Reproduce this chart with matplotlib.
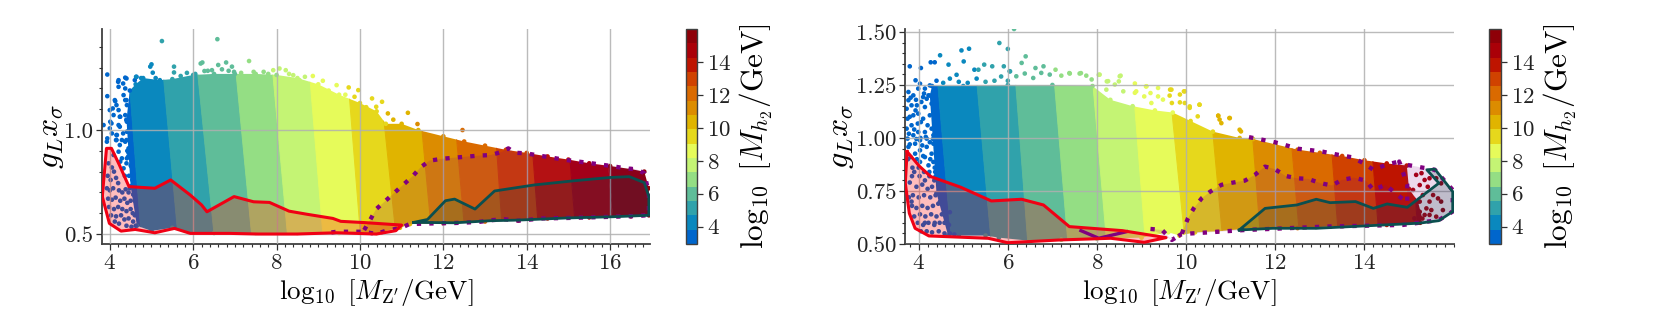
import numpy as np
import matplotlib
matplotlib.use("Agg")
import matplotlib.pyplot as plt
from matplotlib.colors import ListedColormap, BoundaryNorm
from matplotlib.cm import ScalarMappable
from matplotlib.patches import Polygon
from matplotlib.ticker import MultipleLocator, FormatStrFormatter

plt.rcParams['font.family'] = ['cmr10', 'DejaVu Serif']
plt.rcParams['mathtext.fontset'] = 'cm'
plt.rcParams['axes.formatter.use_mathtext'] = True
plt.rcParams['axes.unicode_minus'] = False

W, H = 1661, 332

band_colors = ['#0066CC', '#0A88BE', '#30A2AB', '#5FBD99', '#94DE84', '#C4F474', '#E6FB5A', '#E6D81C',
               '#E0B400', '#DC8C00', '#DA6A00', '#D04200', '#BE1400', '#AA0008', '#8E0008']
mass_levels = [2.94, 3.81, 4.68, 5.56, 6.43, 7.30, 8.18, 9.05, 9.92, 10.80, 11.67, 12.54, 13.41, 14.29, 15.16, 16.03]
band_mass = [3.4, 4.2, 5.1, 6.0, 6.9, 7.7, 8.6, 9.5, 10.4, 11.2, 12.1, 13.0, 13.9, 14.7, 15.6]
cbar_ticks = [4, 6, 8, 10, 12, 14]

# ---------- left panel ----------
L_boundary_top = [4.46, 5.29, 6.12, 7.04, 7.92, 8.80, 9.71, 10.47, 11.37, 12.19, 13.16, 14.01, 14.88, 15.82]
L_boundary_bot = [4.75, 5.63, 6.50, 7.40, 8.26, 9.11, 10.01, 10.86, 11.72, 12.52, 13.42, 14.29, 15.18, 16.07]
L_env_x = [4.48, 4.62, 4.80, 5.20, 5.50, 6.00, 6.50, 7.00, 7.50, 8.00, 8.50, 9.00, 9.50, 10.00, 10.40, 10.62, 11.00, 11.40,
           12.00, 12.50, 13.00, 13.50, 14.00, 14.50, 15.00, 15.50, 16.00, 16.50, 16.82, 16.93, 16.93, 16.50, 15.50, 14.50,
           13.80, 13.00, 12.00, 11.20, 10.96, 10.40, 9.50, 8.50, 7.50, 6.50, 5.90, 5.50, 5.00, 4.65, 4.50, 4.45, 4.40]
L_env_y = [1.19, 1.22, 1.25, 1.24, 1.245, 1.265, 1.27, 1.27, 1.27, 1.265, 1.25, 1.22, 1.17, 1.13, 1.09, 1.03, 1.03, 1.00,
           .97, .945, .925, .905, .89, .873, .858, .84, .827, .812, .80, .72, .59, .585, .58, .575,
           .565, .56, .552, .548, .53, .505, .505, .505, .505, .505, .51, .53, .515, .54, .73, .89, 1.05]
L_dot_x = [3.94, 3.94, 3.85, 4.37, 4.21, 4.21, 4.37, 4.33, 4.13, 4.37, 4.07, 4.21, 4.41, 4.09, 4.25, 4.01, 4.37, 4.21, 4.41,
           4.05, 4.17, 4.41, 3.93, 4.15, 4.29, 4.21, 4.37, 4.45, 4.29, 4.41, 4.09, 4.25, 4.33,
           3.97, 4.05, 4.10, 3.95, 4.02, 4.15, 4.20, 3.93, 4.00, 4.08, 4.22, 4.30, 4.38, 4.45, 3.96, 4.05, 4.14, 4.25, 4.35,
           4.42, 4.50, 3.98, 4.10, 4.20, 4.30, 4.40, 4.50, 4.55, 4.03, 4.15, 4.27, 4.35, 4.45, 4.56, 4.22, 4.40, 4.52, 4.62, 4.60, 4.12,
           4.20, 4.40, 4.32, 4.64, 4.60, 4.12, 4.16, 4.24, 4.04, 4.24, 4.00, 4.40, 4.40, 4.16, 4.40, 4.44, 4.52, 4.40, 4.16, 4.32, 4.24, 3.94, 4.00,
           4.46, 4.50, 4.36, 4.48, 4.54, 4.42, 4.56, 4.46, 4.60]
L_dot_y = [1.267, 1.163, 1.024, 1.252, 1.24, 1.208, 1.20, 1.168, 1.139, 1.144, 1.104, 1.096, 1.12, 1.072, 1.064, 1.04, 1.072, 1.024, 1.04,
           .984, .976, .992, .944, .952, .952, .896, .944, .912, .864, .864, .88, .848, .816,
           .84, .82, .80, .78, .76, .77, .745, .72, .71, .72, .71, .70, .715, .70, .67, .665, .675, .66, .67,
           .65, .66, .63, .62, .63, .62, .61, .62, .60, .59, .585, .59, .57, .575, .56, .55, .54, .535, .54, .59, .56,
           1.232, 1.248, 1.224, 1.256, 1.24, 1.144, 1.12, 1.064, 1.032, 1.016, 1.096, 1.144, 1.048, .976, .952, .872, .824, .84, .952, .984, .928, .96, 1.008,
           .78, .83, .78, .72, .76, .90, .69, 1.00, .66]
L_dot_m = [3.4] * len(L_dot_x)
L_top_x = [5.25, 6.58, 5.00, 4.97, 5.54, 5.03, 5.54, 6.22, 6.18, 6.27, 6.45, 6.60, 6.79, 6.69, 6.93, 7.34, 6.98, 7.69, 7.92, 8.07,
           8.22, 8.40, 8.68, 8.87, 9.11, 9.73, 9.96, 9.44, 9.87, 10.29, 10.53, 10.39, 11.15, 10.67, 11.38, 12.46, 4.63, 4.75,
           5.10, 5.70, 5.85, 6.05, 6.35, 6.85, 7.15, 7.45, 7.80, 8.30, 8.55, 9.25, 9.65, 10.15, 10.80]
L_top_y = [1.428, 1.437, 1.316, 1.305, 1.305, 1.276, 1.277, 1.325, 1.32, 1.284, 1.288, 1.313, 1.325, 1.292, 1.305, 1.332, 1.28, 1.28, 1.288, 1.296,
           1.288, 1.264, 1.256, 1.26, 1.237, 1.205, 1.192, 1.216, 1.16, 1.152, 1.136, 1.112, 1.083, 1.08, 1.029, 1.00, 1.256, 1.25,
           1.25, 1.26, 1.275, 1.27, 1.285, 1.285, 1.275, 1.28, 1.27, 1.27, 1.24, 1.19, 1.17, 1.11, 1.05]
L_top_m = [5.1, 6.0, 4.2, 4.2, 5.1, 4.2, 5.1, 6.0, 6.0, 6.0, 6.0, 6.0, 6.0, 6.0, 6.0, 6.9, 6.0, 6.9, 7.7, 7.7,
           7.7, 7.7, 7.7, 8.6, 8.6, 9.5, 9.5, 8.6, 9.5, 9.5, 9.5, 9.5, 10.4, 10.4, 11.2, 12.1, 4.2, 4.2,
           4.2, 5.1, 5.1, 5.1, 6.0, 6.0, 6.9, 6.9, 6.9, 7.7, 7.7, 8.6, 8.6, 9.5, 10.4]
L_red_x = [3.82, 3.92, 4.04, 4.23, 4.46, 5.08, 5.46, 5.93, 6.20, 6.33, 6.98, 7.45, 7.83, 8.30, 8.73, 9.35, 9.54, 10.10, 11.00,
           10.86, 10.39, 9.44, 8.49, 7.55, 6.88, 5.93, 5.55, 5.08, 4.61, 4.27, 3.99, 3.82]
L_red_y = [.68, .912, .912, .832, .728, .72, .76, .6875, .64, .607, .68, .655, .652, .61, .595, .575, .561, .555, .543,
           .516, .50, .506, .50, .50, .503, .503, .527, .506, .522, .514, .551, .68]
L_teal_x = [11.29, 11.62, 12.05, 12.27, 12.76, 13.23, 14.18, 15.13, 16.00, 16.46, 16.82, 16.93, 16.93, 16.07, 14.94, 13.80, 13.14, 12.28, 11.29]
L_teal_y = [.556, .57, .66, .668, .62, .707, .736, .756, .772, .776, .747, .68, .59, .583, .577, .567, .564, .554, .556]
L_purple_x = [10.10, 10.25, 10.39, 10.61, 10.83, 11.05, 11.27, 11.45, 11.67, 11.98, 12.26, 12.55, 12.85, 13.14, 13.42, 13.56, 13.71, 13.99,
              14.27, 14.56, 14.84, 15.13, 15.46, 15.74, 16.03, 16.36, 16.64, 16.82, 16.93, 16.93, 16.69, 16.08, 15.51, 14.94, 14.37, 13.80,
              13.47, 13.18, 12.85, 12.28, 11.76, 11.19, 10.96, 10.67, 10.39, 10.10, 9.44, 9.16]
L_purple_y = [.519, .57, .62, .659, .699, .739, .779, .82, .853, .862, .867, .872, .877, .88, .896, .912, .891, .888,
              .878, .869, .859, .851, .843, .835, .827, .816, .811, .792, .696, .591, .587, .583, .58, .577, .575, .564,
              .571, .567, .558, .553, .551, .548, .527, .519, .50, .511, .511, .503]

# ---------- right panel ----------
R_boundary_top = [4.43, 5.31, 6.18, 7.05, 7.91, 8.81, 9.62, 10.50, 11.40, 12.25, 13.15, 14.05, 14.95, 15.70]
R_boundary_bot = [4.74, 5.63, 6.45, 7.35, 8.22, 9.09, 9.98, 10.83, 11.68, 12.56, 13.43, 14.34, 15.22, 15.95]
R_env_x = [4.25, 4.30, 5.00, 6.00, 7.00, 7.90, 8.30, 8.80, 9.30, 9.70, 10.10, 10.60, 11.20, 11.50, 12.00, 12.50, 13.00, 13.50, 14.00,
           14.50, 14.95, 15.00, 15.20, 15.30, 15.25, 14.50, 13.50, 12.50, 11.50, 10.70, 10.20, 9.85, 9.60, 9.00, 8.00, 7.20, 6.50, 5.80,
           5.50, 4.90, 4.66, 4.40]
R_env_y = [1.20, 1.245, 1.245, 1.25, 1.25, 1.245, 1.18, 1.15, 1.13, 1.12, 1.08, 1.03, 1.00, .995, .97, .945, .93, .915, .895,
           .88, .87, .76, .70, .62, .60, .59, .585, .575, .575, .56, .555, .54, .555, .53, .525, .52, .515, .53,
           .54, .54, .54, .74]
R_dot_x = [3.77, 3.93, 4.03, 3.77, 3.88, 3.99, 4.14, 4.25, 3.73, 3.84, 3.96, 4.10, 4.22, 4.37, 3.75, 3.88, 3.99, 4.14, 4.29, 3.73,
           3.84, 3.98, 4.10, 4.25, 3.75, 3.88, 3.99, 4.14, 4.29, 3.77, 3.92, 4.03, 4.18, 4.33, 3.92, 4.03, 4.18, 4.33, 4.03, 4.14,
           4.29, 4.40, 4.22, 4.33, 4.44, 4.37, 4.48,
           3.90, 4.02, 3.80, 3.95, 4.08, 4.20, 4.30, 3.78, 3.87, 4.00, 4.12, 4.26, 4.38, 4.50, 3.85, 3.95, 4.08, 4.20, 4.32, 4.44,
           4.55, 3.90, 4.03, 4.15, 4.28, 4.40, 4.52, 4.62, 3.98, 4.10, 4.22, 4.35, 4.47, 4.58, 4.68, 4.05, 4.18, 4.30, 4.45, 4.58, 4.70, 4.80,
           3.82, 3.94, 4.06, 4.18, 4.30, 4.12, 3.80, 3.93, 4.05, 4.20, 4.35, 3.78, 3.90, 4.04, 4.16, 4.32, 3.80, 3.95, 4.08, 4.25, 4.40, 3.82, 3.96, 4.10, 4.26,
           4.42, 3.76, 3.86, 4.00, 4.12, 4.24, 4.36, 4.24, 4.38, 4.46, 3.85, 4.14, 4.35, 4.52, 4.54, 4.48, 4.58, 4.62, 3.84, 4.14, 4.36, 4.64, 4.70]
R_dot_y = [1.217, 1.272, 1.256, 1.178, 1.201, 1.233, 1.233, 1.248, 1.138, 1.154, 1.154, 1.193, 1.201, 1.225, 1.091, 1.107, 1.115, 1.146, 1.162, 1.044,
           1.06, 1.068, 1.091, 1.107, .997, 1.013, 1.028, 1.028, 1.044, .958, .973, .989, .997, 1.013, .926, .942, .958, .973, .887, .91,
           .926, .942, .871, .887, .903, .84, .855,
           .84, .82, .79, .77, .78, .76, .77, .72, .73, .72, .73, .72, .73, .74, .68, .67, .68, .67, .68, .69,
           .69, .63, .64, .63, .64, .63, .64, .65, .60, .59, .60, .59, .60, .60, .59, .56, .56, .555, .56, .55, .55, .545,
           1.19, 1.18, 1.17, 1.185, 1.20, 1.21, 1.10, 1.13, 1.075, 1.06, 1.08, 1.02, 1.04, 1.00, 1.005, .995, .97, .995, .965, .98, .965, .91, .90, .915, .90,
           .91, .90, .86, .86, .84, .84, .86, .82, .82, .80, .82, .80, .80, .76, .72, .70, .66, .60, .70, .60, .60, .60, .65]
R_dot_m = [3.4] * len(R_dot_x)
R_top_x = [3.80, 4.05, 4.27, 4.48, 4.36, 4.67, 4.96, 5.13, 5.01, 5.25, 5.34, 5.47, 4.85, 5.65, 5.81, 6.00, 6.14, 5.91, 6.05, 6.40,
           6.31, 6.62, 6.80, 7.07, 7.38, 7.64, 8.04, 8.53, 8.22, 8.49, 9.10, 9.64, 9.95, 10.08, 10.30, 10.26, 10.72, 10.97, 10.79, 11.23,
           9.06, 9.37, 9.68, 9.20, 8.88,
           6.04, 6.19, 6.38, 6.57, 6.75, 6.94, 7.20, 7.39, 7.61, 7.76, 8.06, 7.88, 8.25, 8.51, 8.40, 8.21, 8.59, 8.85, 8.85, 9.11, 9.37, 9.67, 9.86, 9.97,
           9.63, 10.30, 9.97, 9.48, 9.22, 9.86, 10.08, 10.72, 10.98, 10.75, 11.20,
           4.40, 4.55, 4.70, 4.90, 5.10, 5.30, 5.50, 5.70, 5.85, 6.00,
           15.16, 15.28, 15.35, 15.46, 15.24, 15.42, 15.61, 15.72, 15.09, 15.31, 15.54, 15.65, 15.24, 15.46, 15.72, 15.39, 15.50, 15.35,
           15.46, 15.61, 15.24, 15.76, 15.12]
R_top_y = [1.338, 1.33, 1.357, 1.39, 1.357, 1.346, 1.413, 1.421, 1.361, 1.322, 1.322, 1.346, 1.298, 1.338, 1.448, 1.42, 1.514, 1.338, 1.314, 1.385,
           1.354, 1.33, 1.338, 1.322, 1.306, 1.306, 1.298, 1.294, 1.267, 1.267, 1.243, 1.228, 1.22, 1.149, 1.157, 1.102, 1.105, 1.094, 1.07, 1.031,
           1.196, 1.196, 1.165, 1.212, 1.22,
           1.315, 1.291, 1.304, 1.283, 1.307, 1.299, 1.294, 1.304, 1.304, 1.294, 1.299, 1.276, 1.268, 1.291, 1.252, 1.228, 1.22, 1.257, 1.213, 1.244, 1.236, 1.228, 1.205, 1.22,
           1.20, 1.157, 1.165, 1.181, 1.165, 1.168, 1.142, 1.105, 1.094, 1.087, 1.039,
           1.27, 1.26, 1.28, 1.265, 1.26, 1.28, 1.265, 1.27, 1.29, 1.27,
           .826, .834, .802, .81, .778, .77, .81, .786, .755, .731, .731, .715, .70, .70, .70, .668, .66, .637,
           .637, .629, .652, .66, .621]
R_top_m = [3.4, 3.4, 3.4, 4.2, 3.4, 4.2, 4.2, 4.2, 4.2, 4.2, 5.1, 5.1, 4.2, 5.1, 5.1, 5.1, 6.0, 5.1, 5.1, 6.0,
           6.0, 6.0, 6.0, 6.9, 6.9, 6.9, 7.7, 7.7, 7.7, 7.7, 8.6, 9.5, 9.5, 9.5, 9.5, 9.5, 10.4, 10.4, 10.4, 10.4,
           8.6, 8.6, 9.5, 8.6, 8.6,
           5.1, 6.0, 6.0, 6.0, 6.0, 6.0, 6.9, 6.9, 6.9, 6.9, 7.7, 6.9, 7.7, 7.7, 7.7, 7.7, 7.7, 8.6, 8.6, 8.6, 8.6, 9.5, 9.5, 9.5,
           9.5, 9.5, 9.5, 8.6, 8.6, 9.5, 9.5, 10.4, 10.4, 10.4, 10.4,
           3.4, 4.2, 4.2, 4.2, 4.2, 4.2, 5.1, 5.1, 5.1, 5.1,
           14.7, 14.7, 14.7, 14.7, 14.7, 14.7, 15.6, 15.6, 14.7, 14.7, 14.7, 14.7, 14.7, 14.7, 15.6, 14.7, 14.7, 14.7,
           14.7, 14.7, 14.7, 15.6, 14.7]
R_red_x = [3.74, 4.01, 4.27, 4.94, 5.63, 6.31, 6.80, 7.38, 8.57, 9.55, 9.06, 8.31, 7.16, 6.00, 5.56, 4.23, 3.92, 3.79, 3.70, 3.74]
R_red_y = [.936, .868, .818, .768, .703, .711, .684, .582, .563, .53, .508, .527, .519, .506, .527, .538, .574, .645, .787, .936]
R_teal_x = [11.19, 11.77, 12.48, 12.92, 13.23, 13.80, 14.20, 14.51, 14.96, 15.67, 15.40, 15.58, 15.98, 15.98, 15.67, 15.22, 13.98, 12.92, 11.94, 11.19]
R_teal_y = [.566, .668, .684, .711, .695, .70, .668, .689, .673, .787, .85, .853, .747, .653, .61, .598, .585, .574, .574, .566]
R_purple_x = [9.20, 9.46, 9.68, 9.90, 10.04, 10.17, 10.35, 10.54, 10.79, 11.06, 11.32, 11.54, 11.77, 11.99, 12.23, 12.48, 12.74, 13.01, 13.27,
              13.49, 13.76, 14.03, 14.20, 14.47, 14.70, 14.96, 14.96, 14.78, 14.96, 15.58, 15.98, 15.98, 15.67, 14.87, 13.10, 11.32, 10.44, 9.90, 9.68]
R_purple_y = [.571, .566, .519, .547, .621, .668, .716, .747, .779, .79, .799, .826, .865, .853, .821, .81, .807, .787, .776,
              .802, .813, .799, .755, .779, .739, .695, .78, .889, .873, .85, .755, .653, .613, .59, .582, .566, .554, .547, .519]
R_outer_x = [11.41, 11.70, 11.99, 12.25, 12.52, 12.78, 13.05, 13.38, 13.72, 13.98, 14.20, 14.50, 14.78]
R_outer_y = [1.004, .992, .98, .965, .949, .943, .936, .922, .909, .881, .85, .875, .889]
R_extra_x = [7.64, 8.04, 8.66]
R_extra_y = [.563, .527, .558]

cmap = ListedColormap(band_colors)
norm = BoundaryNorm(mass_levels, cmap.N)
DOTTED = (0, (1, 1.9))


def ax_px(x0, x1, y0, y1):
    return [x0 / W, 1 - y1 / H, (x1 - x0) / W, (y1 - y0) / H]


def draw_panel(ax, xlim, ylim, btop, bbot, envx, envy, dots, red, teal, purple, yminor, yfmt, yticks, xticks, xminor, ylab_x):
    ax.set_xlim(*xlim)
    ax.set_ylim(*ylim)
    env = Polygon(np.column_stack([envx, envy]), closed=True, transform=ax.transData, fc='none', ec='none')
    ax.add_patch(env)
    yhi, ylo = 1.25, 0.5
    ya, yb = 1.45, 0.45
    t = np.array(btop)
    b = np.array(bbot)
    xa = t + (t - b) * (ya - yhi) / (yhi - ylo)
    xb = b + (b - t) * (ylo - yb) / (yhi - ylo)
    xa = np.concatenate([[xlim[0] - 1], xa, [xlim[1] + 1]])
    xb = np.concatenate([[xlim[0] - 1], xb, [xlim[1] + 1]])
    for i in range(len(xa) - 1):
        c = cmap(norm(band_mass[i]))
        p = ax.fill([xa[i], xa[i + 1], xb[i + 1], xb[i]], [ya, ya, yb, yb], fc=c, ec=c, lw=0.7, zorder=1)[0]
        p.set_clip_path(env)
    env_m = np.array(band_mass)[np.clip(np.searchsorted(0.5 * (t + b), envx), 0, 14)]
    ax.scatter(envx, envy, c=env_m, cmap=cmap, norm=norm, s=11, lw=0, zorder=1.2)
    for dx, dy, dm in dots:
        ax.scatter(dx, dy, c=dm, cmap=cmap, norm=norm, s=11, lw=0, zorder=1.3)

    ax.set_axisbelow(False)
    ax.grid(True, which='major', color='#b0b0b0', lw=1.0, alpha=0.85)
    ax.fill(purple[0], purple[1], color='#800080', alpha=0.15, lw=0, zorder=2.6)
    ax.plot(purple[0], purple[1], color='#800080', lw=3.1, ls=DOTTED, zorder=3)
    ax.fill(teal[0], teal[1], color='#0B4A4A', alpha=0.20, lw=0, zorder=2.7)
    ax.plot(teal[0], teal[1], color='#0B4F4F', lw=2.0, zorder=3.2)
    ax.fill(red[0], red[1], color='#FF0000', alpha=0.26, lw=0, zorder=2.8)
    ax.plot(red[0], red[1], color='#F00014', lw=2.2, zorder=3.3)

    ax.set_xticks(xticks)
    ax.set_yticks(yticks)
    ax.xaxis.set_minor_locator(MultipleLocator(xminor))
    ax.yaxis.set_minor_locator(MultipleLocator(yminor))
    ax.yaxis.set_major_formatter(FormatStrFormatter(yfmt))
    ax.tick_params(which='major', labelsize=16.5, length=4, width=0.9, color='#303030', labelcolor='#222222', pad=2.5)
    ax.tick_params(which='minor', length=2.5, width=0.8, color='#303030')
    for s in ('top', 'right'):
        ax.spines[s].set_visible(False)
    for s in ('left', 'bottom'):
        ax.spines[s].set_color('#404040')
        ax.spines[s].set_linewidth(1.3)
    ax.set_xlabel(r'$\log_{10}\ [M_{\mathrm{Z}^\prime}/\mathrm{GeV}]$', fontsize=19.5, labelpad=3.5)
    ax.set_ylabel(r'$g_L x_\sigma$', fontsize=23)
    ax.yaxis.set_label_coords(ylab_x, 0.5)


def draw_cbar(fig, rect):
    cax = fig.add_axes(rect)
    sm = ScalarMappable(norm=norm, cmap=cmap)
    cb = fig.colorbar(sm, cax=cax, ticks=cbar_ticks, spacing='proportional')
    cb.minorticks_off()
    cb.ax.tick_params(labelsize=16.5, length=4, width=0.9, color='#303030', labelcolor='#222222', pad=3)
    cb.outline.set_edgecolor('#404040')
    cb.outline.set_linewidth(1.0)
    cb.dividers.set_visible(False)
    cb.set_label(r'$\log_{10}\ [M_{h_2}/\mathrm{GeV}]$', fontsize=22.5, labelpad=5)


fig = plt.figure(figsize=(W / 100, H / 100), dpi=100)

ax1 = fig.add_axes(ax_px(102.3, 649.7, 29, 244))
draw_panel(ax1, (3.82, 16.95), (0.452, 1.486), L_boundary_top, L_boundary_bot, L_env_x, L_env_y,
           [(L_dot_x, L_dot_y, L_dot_m), (L_top_x, L_top_y, L_top_m)],
           (L_red_x, L_red_y), (L_teal_x, L_teal_y), (L_purple_x, L_purple_y),
           0.1, '%.1f', [0.5, 1.0], [4, 6, 8, 10, 12, 14, 16], 0.2, -0.066)
draw_cbar(fig, ax_px(686, 697.3, 29, 244))

ax2 = fig.add_axes(ax_px(905.3, 1453.6, 29, 244))
draw_panel(ax2, (3.70, 16.0), (0.50, 1.514), R_boundary_top, R_boundary_bot, R_env_x, R_env_y,
           [(R_dot_x, R_dot_y, R_dot_m), (R_top_x, R_top_y, R_top_m)],
           (R_red_x, R_red_y), (R_teal_x, R_teal_y), (R_purple_x, R_purple_y),
           0.05, '%.2f', [0.5, 0.75, 1.0, 1.25, 1.5], [4, 6, 8, 10, 12, 14], 0.2, -0.09)
ax2.plot(R_outer_x, R_outer_y, color='#800080', lw=3.1, ls=DOTTED, zorder=3)
ax2.plot(R_extra_x, R_extra_y, color='#800080', lw=2.4, zorder=3)
draw_cbar(fig, ax_px(1489, 1501, 29, 244))

fig.savefig('out.png', dpi=100)
